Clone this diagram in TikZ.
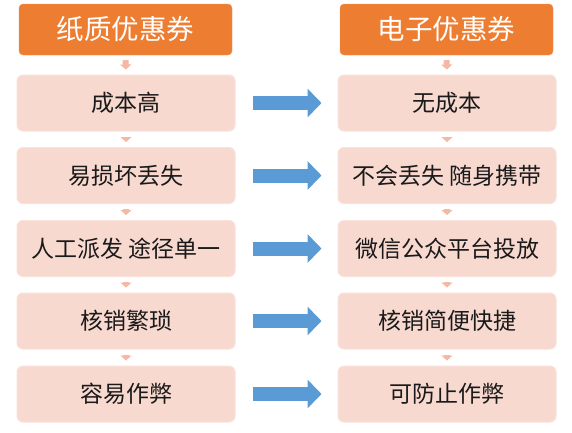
\documentclass[tikz,border=0pt]{standalone}
\usepackage{fontspec}
\setmainfont{Noto Sans CJK SC}
\usetikzlibrary{arrows.meta}
\definecolor{hdr}{HTML}{ED7D31}
\definecolor{boxfill}{HTML}{F8D9CF}
\definecolor{boxline}{HTML}{F9E2DA}
\definecolor{smallarr}{HTML}{F4B8A3}
\definecolor{bigarr}{HTML}{5B9BD5}
\definecolor{txt}{HTML}{1A1A1A}
\tikzset{
  hbox/.style={fill=hdr, draw=hdr!80!white, rounded corners=4pt, minimum width=213pt, minimum height=51pt, text=white, font=\fontsize{27.5}{27.5}\selectfont, inner sep=0pt},
  ibox/.style={fill=boxfill, draw=boxline, line width=1pt, rounded corners=6pt, minimum width=218pt, minimum height=56pt, text=txt, font=\fontsize{23}{23}\selectfont, inner sep=0pt},
  smallarrow/.style={draw=smallarr, line width=6pt, -{Triangle[width=11pt,length=5pt]}, shorten <=5pt, shorten >=5pt},
  bigarrow/.style={draw=bigarr, line width=14pt, -{Triangle[width=28pt,length=14pt]}, shorten <=17pt, shorten >=16pt}
}
\begin{document}
\begin{tikzpicture}[x=1pt,y=-1pt]
\useasboundingbox[fill=white] (0,0) rectangle (572,432);
\node[hbox] (h1) at (125.5,29.5) {纸质优惠券};
\node[hbox] (h2) at (446.5,29.5) {电子优惠券};
\node[ibox] (a1) at (126,103) {成本高};
\node[ibox] (a2) at (126,175.5) {易损坏丢失};
\node[ibox] (a3) at (126,248.5) {人工派发 途径单一};
\node[ibox] (a4) at (126,321) {核销繁琐};
\node[ibox] (a5) at (126,394) {容易作弊};
\node[ibox] (b1) at (447,103) {无成本};
\node[ibox] (b2) at (447,175.5) {不会丢失 随身携带};
\node[ibox] (b3) at (447,248.5) {微信公众平台投放};
\node[ibox] (b4) at (447,321) {核销简便快捷};
\node[ibox] (b5) at (447,394) {可防止作弊};
\draw[smallarrow] (h1.south) -- (a1.north);
\draw[smallarrow] (a1.south) -- (a2.north);
\draw[smallarrow] (a2.south) -- (a3.north);
\draw[smallarrow] (a3.south) -- (a4.north);
\draw[smallarrow] (a4.south) -- (a5.north);
\draw[smallarrow] (h2.south) -- (b1.north);
\draw[smallarrow] (b1.south) -- (b2.north);
\draw[smallarrow] (b2.south) -- (b3.north);
\draw[smallarrow] (b3.south) -- (b4.north);
\draw[smallarrow] (b4.south) -- (b5.north);
\draw[bigarrow] (a1.east) -- (b1.west);
\draw[bigarrow] (a2.east) -- (b2.west);
\draw[bigarrow] (a3.east) -- (b3.west);
\draw[bigarrow] (a4.east) -- (b4.west);
\draw[bigarrow] (a5.east) -- (b5.west);
\end{tikzpicture}
\end{document}
